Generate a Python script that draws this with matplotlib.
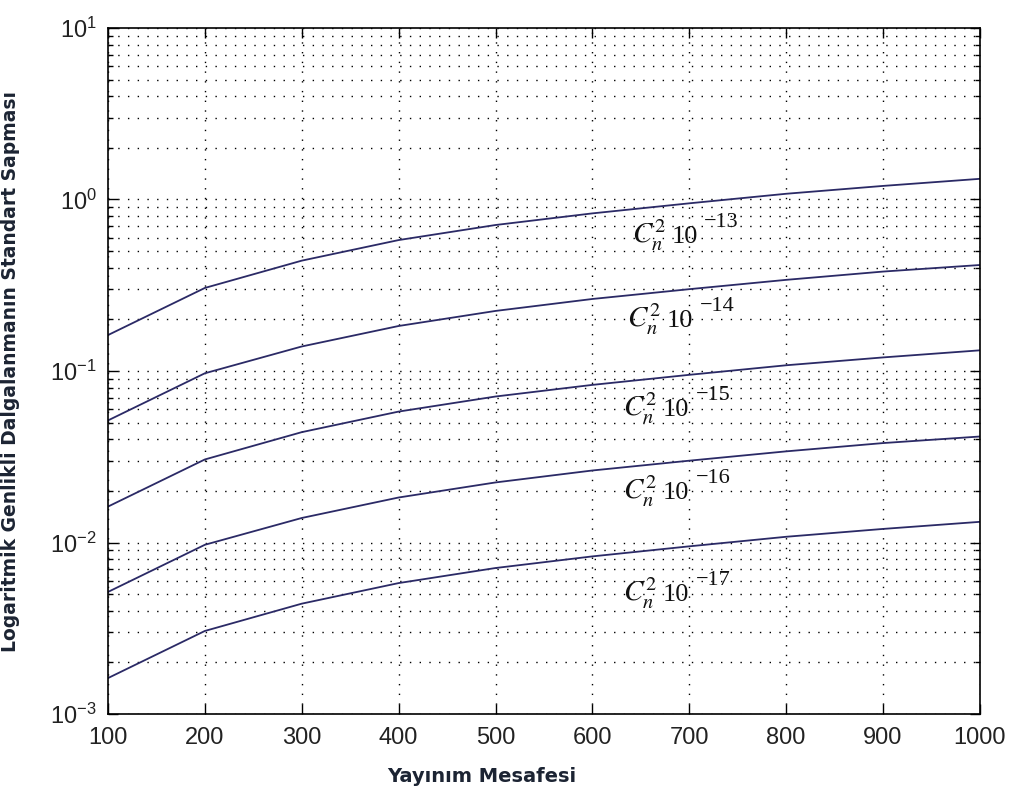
import matplotlib
matplotlib.use("Agg")
import matplotlib.pyplot as plt
from matplotlib.ticker import LogLocator, MultipleLocator, NullFormatter

# Propagation distance
distance = [100, 200, 300, 400, 500, 600, 700, 800, 900, 1000]

# Log-amplitude fluctuation standard deviation for each turbulence strength
sigma_m13 = [0.162, 0.305, 0.44, 0.58, 0.71, 0.83, 0.95, 1.08, 1.20, 1.32]
sigma_m14 = [0.0515, 0.097, 0.139, 0.183, 0.224, 0.263, 0.300, 0.340, 0.380, 0.415]
sigma_m15 = [0.0162, 0.0305, 0.044, 0.058, 0.071, 0.083, 0.095, 0.108, 0.120, 0.132]
sigma_m16 = [0.00515, 0.0097, 0.0139, 0.0183, 0.0224, 0.0263, 0.0300, 0.0340, 0.0380, 0.0415]
sigma_m17 = [0.00162, 0.00305, 0.0044, 0.0058, 0.0071, 0.0083, 0.0095, 0.0108, 0.0120, 0.0132]

series = [sigma_m13, sigma_m14, sigma_m15, sigma_m16, sigma_m17]
exponents = ["13", "14", "15", "16", "17"]
# Anchor (left edge, baseline) of each curve annotation
label_x = [641, 636, 632, 632, 632]
label_y = [0.558, 0.1805, 0.0546, 0.0179, 0.00456]

plt.rcParams["mathtext.fontset"] = "stix"

fig = plt.figure(figsize=(10.15, 7.93), dpi=100)
ax = fig.add_axes([0.1064, 0.0996, 0.859, 0.8651])

line_color = "#2b2a66"
for ys in series:
    ax.plot(distance, ys, color=line_color, linewidth=1.3)

serif = "Liberation Serif"
txt_color = "#111111"
for lx, ly, ex in zip(label_x, label_y, exponents):
    ax.annotate(r"$C_n^2$", xy=(lx, ly), xytext=(0, 0), textcoords="offset points",
                fontsize=21, color=txt_color, ha="left", va="baseline")
    ax.annotate("10", xy=(lx, ly), xytext=(28.5, 0), textcoords="offset points",
                fontsize=19, family=serif, color=txt_color, ha="left", va="baseline")
    ax.annotate("\u2212" + ex, xy=(lx, ly), xytext=(52, 11.5), textcoords="offset points",
                fontsize=16, family=serif, color=txt_color, ha="left", va="baseline")

ax.set_yscale("log")
ax.set_xlim(100, 1000)
ax.set_ylim(1e-3, 1e1)
ax.xaxis.set_major_locator(MultipleLocator(100))
ax.yaxis.set_major_locator(LogLocator(base=10, numticks=10))
ax.yaxis.set_minor_locator(LogLocator(base=10, subs=range(2, 10), numticks=20))
ax.yaxis.set_minor_formatter(NullFormatter())

dots = (0, (1, 6))
ax.grid(True, which="major", axis="both", linestyle=dots, color="black", linewidth=1.0)
ax.grid(True, which="minor", axis="y", linestyle=dots, color="black", linewidth=1.0)

ax.tick_params(which="both", direction="in", top=True, right=True, width=1.0)
ax.tick_params(which="major", length=7, labelsize=17)
ax.tick_params(axis="x", which="major", pad=9)
ax.tick_params(axis="y", which="major", pad=8)
ax.tick_params(which="minor", length=3.5)
for lab in ax.get_xticklabels() + ax.get_yticklabels():
    lab.set_fontfamily("Liberation Sans")
    lab.set_color("#222222")
for sp in ax.spines.values():
    sp.set_linewidth(1.2)

label_color = "#1c2433"
ax.set_xlabel("Yayınım Mesafesi", fontsize=14, fontweight="bold",
              color=label_color, fontfamily="DejaVu Sans")
ax.xaxis.set_label_coords(0.429, -0.0775)
ax.set_ylabel("Logaritmik Genlikli Dalgalanmanın Standart Sapması", fontsize=13.5,
              fontweight="bold", color=label_color, fontfamily="DejaVu Sans")
ax.yaxis.set_label_coords(-0.101, 0.5)

fig.savefig("out.png", dpi=100, facecolor="white")
